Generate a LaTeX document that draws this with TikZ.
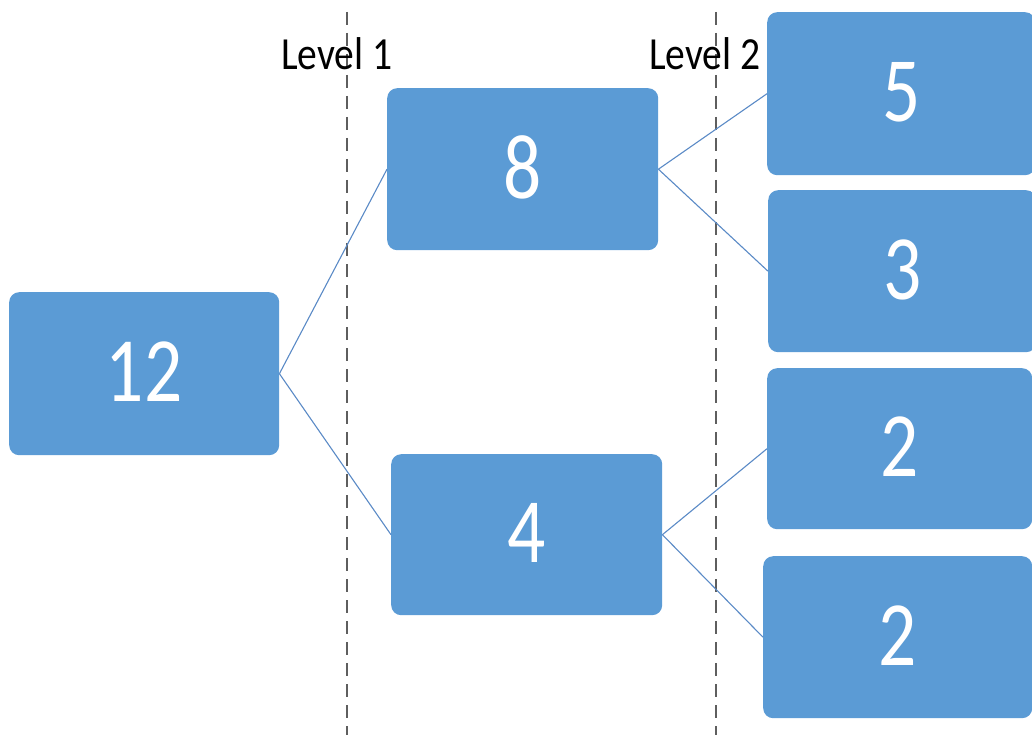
\documentclass[tikz,border=0pt]{standalone}
\usepackage{fontspec}
\setmainfont{Carlito}
\newfontfamily\boxfont[FakeStretch=0.82]{Carlito}
\newfontfamily\labfont[FakeStretch=0.86]{Carlito}
\definecolor{boxblue}{HTML}{5B9BD5}
\definecolor{linkblue}{HTML}{5A8AC6}
\definecolor{dashgray}{HTML}{5E5E5E}
\newcommand{\upnum}[1]{\raisebox{4pt}{#1}}
\begin{document}
\begin{tikzpicture}[x=1pt,y=-1pt,
  numbox/.style={draw=none,fill=boxblue,rounded corners=10pt,text=white,
    font=\boxfont\fontsize{92}{92}\selectfont,inner sep=0pt,anchor=north west},
  link/.style={draw=linkblue,line width=1.1pt},
  levelline/.style={draw=dashgray,line width=2.6pt,dash pattern=on 13pt off 8pt},
  levellabel/.style={font=\labfont\fontsize{46}{46}\selectfont,text=black,anchor=base,inner sep=0pt}]
\useasboundingbox (0,0) rectangle (1032,735);
% level lines
\coordinate (d1t) at (347,12);
\coordinate (d1b) at (347,735);
\coordinate (d2t) at (716,12);
\coordinate (d2b) at (716,735);
\draw[levelline] (d1t) -- (d1b);
\draw[levelline] (d2t) -- (d2b);
\node[levellabel] (lv1) at (337,70) {Level 1};
\node[levellabel] (lv2) at (705,70) {Level 2};
% boxes
\node[numbox,minimum width=270pt,minimum height=163pt] (n12) at (9,292) {\upnum{12}};
\node[numbox,minimum width=271pt,minimum height=162pt] (n8) at (387,88) {\upnum{8}};
\node[numbox,minimum width=271pt,minimum height=161pt] (n4) at (391,454) {\upnum{4}};
\node[numbox,minimum width=268pt,minimum height=163pt] (n5) at (767,12) {\upnum{5}};
\node[numbox,minimum width=268pt,minimum height=162pt] (n3) at (768,190) {\upnum{3}};
\node[numbox,minimum width=265pt,minimum height=161pt] (n2a) at (767,368) {\upnum{2}};
\node[numbox,minimum width=269pt,minimum height=162pt] (n2b) at (763,556) {\upnum{2}};
% links
\draw[link] (n12.east) -- (n8.west);
\draw[link] (n12.east) -- (n4.west);
\draw[link] (n8.east) -- (n5.west);
\draw[link] (n8.east) -- (n3.west);
\draw[link] (n4.east) -- (n2a.west);
\draw[link] (n4.east) -- (n2b.west);
\end{tikzpicture}
\end{document}
